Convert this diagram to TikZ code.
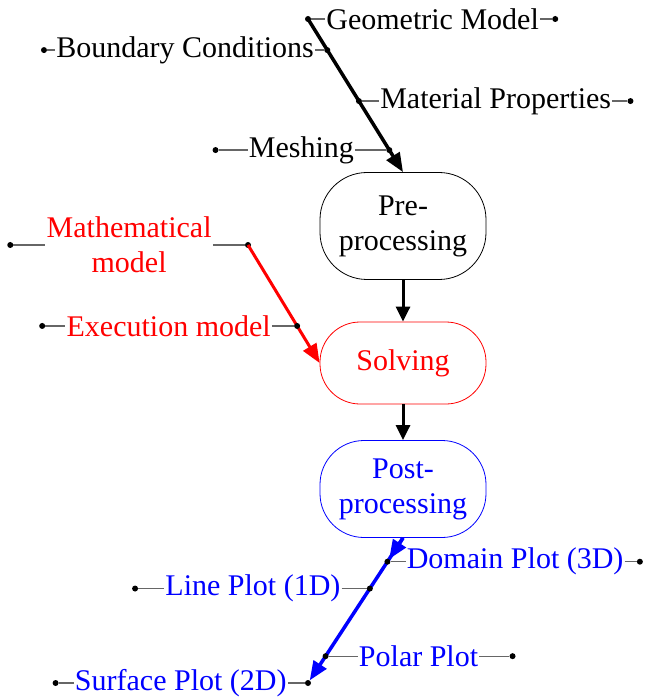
\documentclass[tikz,border=0pt]{standalone}
\usepackage{fontspec}
\setmainfont{Liberation Serif}
\usetikzlibrary{arrows.meta,positioning}

\tikzset{
  stage/.style={draw,rounded corners=40pt,minimum width=166pt,align=center,line width=0.8pt},
  cause/.style={inner sep=1pt,align=center},
  dot/.style={circle,fill=black,inner sep=0pt,minimum size=6pt},
  leg/.style={draw=black!60,line width=1.2pt},
  spine/.style={line width=3.5pt,-{Triangle[length=19pt,width=15pt]}},
  link/.style={line width=3pt,-{Triangle[length=15pt,width=14pt]}},
}

\begin{document}
\begin{tikzpicture}[x=1pt,y=-1pt,font=\fontsize{30}{35}\selectfont]
\useasboundingbox (0,0) rectangle (644,700);
% stages
\node[stage,minimum height=107pt,rounded corners=47pt] (pre) at (403,226) {Pre-\\processing};
\node[stage,minimum height=82pt,draw=red,text=red] (solve) at (403,363) {Solving};
\node[stage,minimum height=97pt,draw=blue,text=blue,rounded corners=44pt] (post) at (403,489) {Post-\\processing};
\draw[link] (pre) -- (solve);
\draw[link] (solve) -- (post);

% pre-processing branch
\node[dot] (geoA) at (308,19) {};
\draw[spine] (geoA.center) -- (pre.north);
\path (geoA.center) -- (pre.north)
  node[dot,pos=0.203] (bcR) {}
  node[dot,pos=0.536] (matL) {}
  node[dot,pos=0.856] (meshR) {};
\node[cause,right=14pt of geoA] (geo) {Geometric Model};
\node[dot,right=12pt of geo] (geoB) {};
\node[cause,left=9pt of bcR] (bc) {Boundary Conditions};
\node[dot,left=8pt of bc] (bcL) {};
\node[cause,right=17pt of matL] (mat) {Material Properties};
\node[dot,right=15pt of mat] (matR) {};
\node[cause,left=31pt of meshR] (mesh) {Meshing};
\node[dot,left=29pt of mesh] (meshL) {};
\draw[leg] (geoA) -- (geo) -- (geoB);
\draw[leg] (bcL) -- (bc) -- (bcR);
\draw[leg] (matL) -- (mat) -- (matR);
\draw[leg] (meshL) -- (mesh) -- (meshR);

% solving branch
\node[dot] (mathR) at (248,245) {};
\draw[spine,red,line width=3pt] (mathR.center) -- (solve.west);
\path (mathR.center) -- (solve.west) node[dot,pos=0.686] (exR) {};
\node[cause,text=red,left=32pt of mathR] (math) {Mathematical\\model};
\node[dot,left=32pt of math] (mathL) {};
\node[cause,text=red,left=22pt of exR] (ex) {Execution model};
\node[dot,left=20pt of ex] (exL) {};
\draw[leg] (mathL) -- (math) -- (mathR);
\draw[leg] (exL) -- (ex) -- (exR);

% post-processing branch
\node[dot] (surfR) at (308,683) {};
\draw[spine,blue] (post.south) -- (surfR);
\path (post.south) -- (surfR.center)
  node[dot,pos=0.164] (domL) {}
  node[dot,pos=0.349] (lineR) {}
  node[dot,pos=0.815] (polL) {};
\draw[spine,blue] (post.south) -- (domL);
\node[cause,text=blue,right=15pt of domL] (dom) {Domain Plot (3D)};
\node[dot,right=12pt of dom] (domR) {};
\node[cause,text=blue,left=25pt of lineR] (line) {Line Plot (1D)};
\node[dot,left=26pt of line] (lineL) {};
\node[cause,text=blue,right=29pt of polL] (pol) {Polar Plot};
\node[dot,right=30pt of pol] (polR) {};
\node[cause,text=blue,left=17pt of surfR] (surf) {Surface Plot (2D)};
\node[dot,left=15pt of surf] (surfL) {};
\draw[leg] (domL) -- (dom) -- (domR);
\draw[leg] (lineL) -- (line) -- (lineR);
\draw[leg] (polL) -- (pol) -- (polR);
\draw[leg] (surfL) -- (surf) -- (surfR);
\end{tikzpicture}
\end{document}
